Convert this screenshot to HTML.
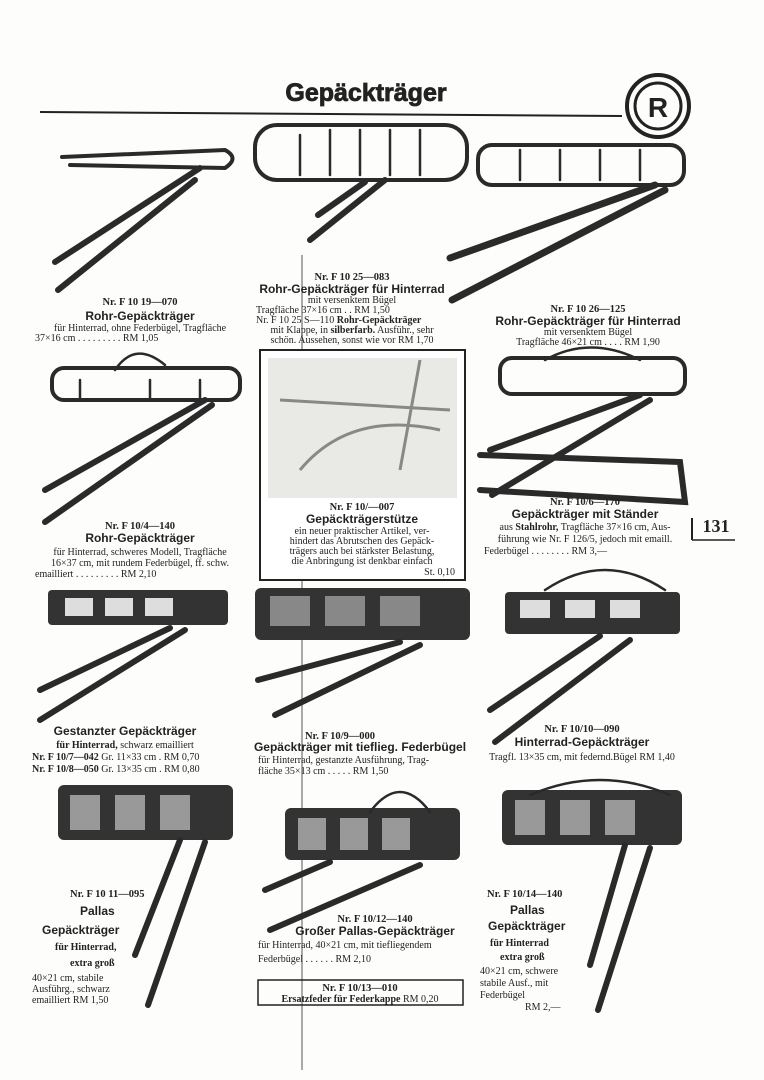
<!DOCTYPE html>
<html><head><meta charset="utf-8"><style>
html,body{margin:0;padding:0;background:#fdfdfb}
svg{display:block}
text{font-family:"Liberation Serif",serif;fill:#222}
.b{font-weight:bold}
.s{font-size:10px}
.h{font-size:12px;font-weight:bold;font-family:"Liberation Sans",sans-serif}
.n{font-size:10.5px;font-weight:bold}
.r{stroke:#2a2a2a;fill:none;stroke-linecap:round}
.d{fill:#333}
</style></head><body>
<svg width="764" height="1080" viewBox="0 0 764 1080">
<rect width="764" height="1080" fill="#fdfdfb"/>
<text x="366" y="101" text-anchor="middle" style="font-family:'Liberation Sans',sans-serif;font-weight:bold;font-size:25px;stroke:#222;stroke-width:0.8">Gepäckträger</text>
<line x1="40" y1="112" x2="622" y2="116" stroke="#222" stroke-width="2"/>
<circle cx="658" cy="106" r="31" fill="none" stroke="#222" stroke-width="4"/>
<circle cx="658" cy="106" r="23" fill="none" stroke="#222" stroke-width="3"/>
<text x="658" y="117" text-anchor="middle" style="font-family:'Liberation Sans',sans-serif;font-weight:bold;font-size:28px">R</text>
<line x1="302" y1="255" x2="302" y2="1070" stroke="#555" stroke-width="1"/>

<!-- Row 1 racks -->
<g class="r">
<path d="M62 157 L225 150 Q240 158 225 168 L70 165" stroke-width="4"/>
<path d="M200 168 L55 262 M195 180 L58 290" stroke-width="6"/>
<rect x="255" y="125" width="212" height="55" rx="22" stroke-width="4"/>
<path d="M300 135 v40 M330 130 v45 M360 130 v45 M390 130 v45 M420 130 v45" stroke-width="2.5"/>
<path d="M385 180 L310 240 M365 182 L318 215" stroke-width="6"/>
<rect x="478" y="145" width="206" height="40" rx="14" stroke-width="4"/>
<path d="M520 150 v30 M560 150 v30 M600 150 v30 M640 150 v30" stroke-width="2.5"/>
<path d="M655 185 L450 258 M665 190 L452 300" stroke-width="7"/>
</g>
<text x="140" y="305" text-anchor="middle" class="n">Nr. F 10 19—070</text>
<text x="140" y="320" text-anchor="middle" class="h">Rohr-Gepäckträger</text>
<text x="140" y="331" text-anchor="middle" class="s">für Hinterrad, ohne Federbügel, Tragfläche</text>
<text x="35" y="341" class="s">37×16 cm . . . . . . . . .  RM 1,05</text>
<text x="352" y="280" text-anchor="middle" class="n">Nr. F 10 25—083</text>
<text x="352" y="293" text-anchor="middle" class="h">Rohr-Gepäckträger für Hinterrad</text>
<text x="352" y="303" text-anchor="middle" class="s">mit versenktem Bügel</text>
<text x="256" y="313" class="s">Tragfläche 37×16 cm  . .  RM 1,50</text>
<text x="256" y="323" class="s">Nr. F 10 25 S—110  <tspan class="b">Rohr-Gepäckträger</tspan></text>
<text x="352" y="333" text-anchor="middle" class="s">mit Klappe, in <tspan class="b">silberfarb.</tspan> Ausführ., sehr</text>
<text x="352" y="343" text-anchor="middle" class="s">schön. Aussehen, sonst wie vor RM 1,70</text>
<text x="588" y="312" text-anchor="middle" class="n">Nr. F 10 26—125</text>
<text x="588" y="325" text-anchor="middle" class="h">Rohr-Gepäckträger für Hinterrad</text>
<text x="588" y="335" text-anchor="middle" class="s">mit versenktem Bügel</text>
<text x="588" y="345" text-anchor="middle" class="s">Tragfläche 46×21 cm  . . . .  RM 1,90</text>

<!-- Row 2 -->
<g class="r">
<rect x="52" y="368" width="188" height="32" rx="12" stroke-width="4"/>
<path d="M115 370 q20 -30 50 -5 M80 380 v18 M150 380 v18 M200 380 v18" stroke-width="2.5"/>
<path d="M205 400 L45 490 M212 405 L45 522" stroke-width="6"/>
<rect x="500" y="358" width="185" height="36" rx="12" stroke-width="4"/>
<path d="M545 360 q45 -25 95 0" stroke-width="2.5"/>
<path d="M640 395 L490 450 M650 400 L492 495" stroke-width="6"/>
<path d="M480 455 L680 462 L685 502 L480 490" stroke-width="6"/>
</g>
<rect x="260" y="350" width="205" height="230" fill="#fff" stroke="#222" stroke-width="2"/>
<rect x="268" y="358" width="189" height="140" fill="#e9e9e5"/>
<path d="M280 400 L450 410 M420 360 L400 470 M300 470 q50 -60 140 -40" stroke="#888" stroke-width="3" fill="none"/>
<text x="362" y="510" text-anchor="middle" class="n">Nr. F 10/—007</text>
<text x="362" y="523" text-anchor="middle" class="h">Gepäckträgerstütze</text>
<text x="362" y="534" text-anchor="middle" class="s">ein neuer praktischer Artikel, ver-</text>
<text x="362" y="544" text-anchor="middle" class="s">hindert das Abrutschen des Gepäck-</text>
<text x="362" y="554" text-anchor="middle" class="s">trägers auch bei stärkster Belastung,</text>
<text x="362" y="564" text-anchor="middle" class="s">die Anbringung ist denkbar einfach</text>
<text x="455" y="575" text-anchor="end" class="s">St. 0,10</text>
<text x="140" y="529" text-anchor="middle" class="n">Nr. F 10/4—140</text>
<text x="140" y="542" text-anchor="middle" class="h">Rohr-Gepäckträger</text>
<text x="140" y="555" text-anchor="middle" class="s">für Hinterrad, schweres Modell, Tragfläche</text>
<text x="140" y="566" text-anchor="middle" class="s">16×37 cm, mit rundem Federbügel, ff. schw.</text>
<text x="35" y="577" class="s">emailliert . . . . . . . . .  RM 2,10</text>
<text x="585" y="505" text-anchor="middle" class="n">Nr. F 10/6—170</text>
<text x="585" y="518" text-anchor="middle" class="h">Gepäckträger mit Ständer</text>
<text x="585" y="530" text-anchor="middle" class="s">aus <tspan class="b">Stahlrohr,</tspan> Tragfläche 37×16 cm, Aus-</text>
<text x="585" y="542" text-anchor="middle" class="s">führung wie Nr. F 126/5, jedoch mit emaill.</text>
<text x="484" y="554" class="s">Federbügel . . . . . . . .  RM 3,—</text>
<text x="716" y="532" text-anchor="middle" style="font-family:'Liberation Serif',serif;font-weight:bold;font-size:18px">131</text>
<line x1="692" y1="518" x2="692" y2="540" stroke="#222" stroke-width="2"/>
<line x1="692" y1="540" x2="735" y2="540" stroke="#222" stroke-width="1.5"/>

<!-- Row 3 -->
<rect x="48" y="590" width="180" height="35" rx="4" class="d"/>
<rect x="255" y="588" width="215" height="52" rx="6" class="d"/>
<rect x="505" y="592" width="175" height="42" rx="4" class="d"/>
<g fill="#ddd"><rect x="65" y="598" width="28" height="18"/><rect x="105" y="598" width="28" height="18"/><rect x="145" y="598" width="28" height="18"/><rect x="520" y="600" width="30" height="18"/><rect x="565" y="600" width="30" height="18"/><rect x="610" y="600" width="30" height="18"/>
<rect x="270" y="596" width="40" height="30" opacity=".5"/><rect x="325" y="596" width="40" height="30" opacity=".5"/><rect x="380" y="596" width="40" height="30" opacity=".5"/></g>
<g class="r">
<path d="M170 628 L40 690 M185 630 L40 720" stroke-width="6"/>
<path d="M400 642 L258 680 M420 645 L275 715" stroke-width="6"/>
<path d="M545 590 q60 -40 120 0" stroke-width="2.5"/>
<path d="M600 636 L490 710 M630 640 L495 742" stroke-width="6"/>
</g>
<text x="125" y="735" text-anchor="middle" class="h">Gestanzter Gepäckträger</text>
<text x="125" y="748" text-anchor="middle" class="s"><tspan class="b">für Hinterrad,</tspan> schwarz emailliert</text>
<text x="32" y="760" class="s"><tspan class="b">Nr. F 10/7—042</tspan> Gr. 11×33 cm . RM 0,70</text>
<text x="32" y="772" class="s"><tspan class="b">Nr. F 10/8—050</tspan> Gr. 13×35 cm . RM 0,80</text>
<text x="340" y="739" text-anchor="middle" class="n">Nr. F 10/9—000</text>
<text x="360" y="751" text-anchor="middle" class="h">Gepäckträger mit tieflieg. Federbügel</text>
<text x="258" y="763" class="s">für Hinterrad, gestanzte Ausführung, Trag-</text>
<text x="258" y="774" class="s">fläche 35×13 cm . . . . .  RM 1,50</text>
<text x="582" y="732" text-anchor="middle" class="n">Nr. F 10/10—090</text>
<text x="582" y="746" text-anchor="middle" class="h">Hinterrad-Gepäckträger</text>
<text x="582" y="760" text-anchor="middle" class="s">Tragfl. 13×35 cm, mit federnd.Bügel RM 1,40</text>

<!-- Row 4 -->
<rect x="58" y="785" width="175" height="55" rx="6" class="d"/>
<rect x="285" y="808" width="175" height="52" rx="6" class="d"/>
<rect x="502" y="790" width="180" height="55" rx="6" class="d"/>
<g fill="#999">
<rect x="70" y="795" width="30" height="35"/><rect x="115" y="795" width="30" height="35"/><rect x="160" y="795" width="30" height="35"/>
<rect x="298" y="818" width="28" height="32"/><rect x="340" y="818" width="28" height="32"/><rect x="382" y="818" width="28" height="32"/>
<rect x="515" y="800" width="30" height="35"/><rect x="560" y="800" width="30" height="35"/><rect x="605" y="800" width="30" height="35"/>
</g>
<g class="r">
<path d="M180 840 L135 955 M205 842 L148 1005" stroke-width="6"/>
<path d="M330 862 L265 890 M420 865 L270 930" stroke-width="6"/>
<path d="M370 812 q30 -40 60 0" stroke-width="2.5"/>
<path d="M625 845 L590 965 M650 848 L598 1010" stroke-width="6"/>
<path d="M530 795 q70 -30 140 0" stroke-width="2.5"/>
</g>
<text x="70" y="897" class="n">Nr. F 10 11—095</text>
<text x="80" y="915" class="h">Pallas</text>
<text x="42" y="934" class="h">Gepäckträger</text>
<text x="55" y="950" class="s b">für Hinterrad,</text>
<text x="70" y="966" class="s b">extra groß</text>
<text x="32" y="981" class="s">40×21 cm, stabile</text>
<text x="32" y="992" class="s">Ausführg., schwarz</text>
<text x="32" y="1003" class="s">emailliert  RM 1,50</text>
<text x="375" y="922" text-anchor="middle" class="n">Nr. F 10/12—140</text>
<text x="375" y="935" text-anchor="middle" class="h">Großer Pallas-Gepäckträger</text>
<text x="258" y="948" class="s">für Hinterrad, 40×21 cm, mit tiefliegendem</text>
<text x="258" y="962" class="s">Federbügel . . . . . .  RM 2,10</text>
<rect x="258" y="980" width="205" height="25" fill="none" stroke="#222" stroke-width="1.5"/>
<text x="360" y="991" text-anchor="middle" class="n">Nr. F 10/13—010</text>
<text x="360" y="1002" text-anchor="middle" class="s"><tspan class="b">Ersatzfeder für Federkappe</tspan> RM 0,20</text>
<text x="487" y="897" class="n">Nr. F 10/14—140</text>
<text x="510" y="914" class="h">Pallas</text>
<text x="488" y="930" class="h">Gepäckträger</text>
<text x="490" y="946" class="s b">für Hinterrad</text>
<text x="500" y="960" class="s b">extra groß</text>
<text x="480" y="974" class="s">40×21 cm, schwere</text>
<text x="480" y="986" class="s">stabile Ausf., mit</text>
<text x="480" y="998" class="s">Federbügel</text>
<text x="525" y="1010" class="s">RM 2,—</text>
</svg>
</body></html>
